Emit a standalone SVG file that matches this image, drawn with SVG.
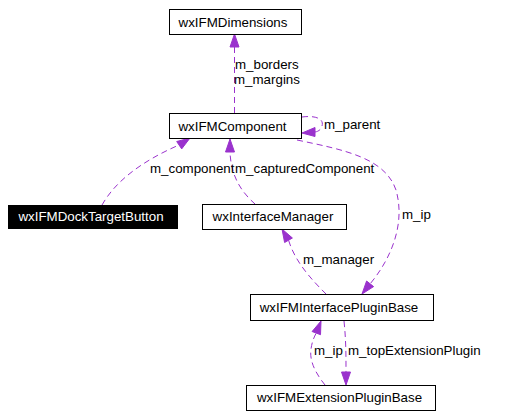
<svg xmlns="http://www.w3.org/2000/svg" width="512" height="418" viewBox="0 0 512 418">
<style>
text{font-family:"Liberation Sans",Arial,sans-serif;font-size:13.33px;fill:#000}
.n rect{fill:#fff;stroke:#000;stroke-width:1}
.e path{fill:none;stroke:#9a32cd;stroke-width:1;stroke-dasharray:6,4}
.e polygon{fill:#9a32cd;stroke:#9a32cd;stroke-width:1}
.c{text-anchor:middle}
</style>
<rect width="512" height="418" fill="#fff"/>
<g id="connectors" class="e">
<path d="M234.5,113 L234.5,47"/>
<polygon points="230,47 239,47 234.5,34"/>
<path d="M302,117 C318,115 324,120 322,126 C321,130 318,131.5 315,132"/>
<polygon points="315,127.5 315,136.5 302,133"/>
<path d="M102,205 C115,182 140,162 179,145"/>
<polygon points="181.7,148.9 176.7,141.5 190,138"/>
<path d="M255,204 C245,195 231,180 230,152"/>
<polygon points="225.5,152 234.5,152 230,139"/>
<path d="M297,140 C345,150 385,158 396,190 C406,225 390,260 370,284"/>
<polygon points="373.6,286.6 366.6,281 362,294"/>
<path d="M326,294 C312,280 295,262 288.5,240"/>
<polygon points="292.4,238 284.6,242.5 282,229"/>
<path d="M325,385 C317,375 309,362 311,349 C312,342 314,337 316.3,333"/>
<polygon points="320.5,334.7 312.1,331.5 321,321"/>
<path d="M344,321 C346,340 346,355 346,372"/>
<polygon points="341.5,372 350.5,372 346,385"/>
<text x="235" y="69">m_borders</text>
<text x="234" y="84">m_margins</text>
<text x="324" y="129">m_parent</text>
<text x="150" y="173">m_component</text>
<text x="235" y="173">m_capturedComponent</text>
<text x="402" y="219">m_ip</text>
<text x="303" y="264">m_manager</text>
<text x="314" y="355">m_ip</text>
<text x="348" y="355">m_topExtensionPlugin</text>
</g>
<g id="wxIFMDimensions" class="n"><rect x="169.5" y="9.5" width="132" height="25"/><text class="c" x="233" y="26.5">wxIFMDimensions</text></g>
<g id="wxIFMComponent" class="n"><rect x="169.5" y="113.5" width="132" height="25"/><text class="c" x="232.5" y="130.5">wxIFMComponent</text></g>
<g id="wxIFMDockTargetButton"><rect x="8" y="205" width="170" height="24" fill="#000"/><text class="c" x="91" y="221" style="fill:#fff">wxIFMDockTargetButton</text></g>
<g id="wxInterfaceManager" class="n"><rect x="202.5" y="204.5" width="144" height="25"/><text class="c" x="273" y="221">wxInterfaceManager</text></g>
<g id="wxIFMInterfacePluginBase" class="n"><rect x="250.5" y="294.5" width="183" height="26"/><text class="c" x="339" y="312">wxIFMInterfacePluginBase</text></g>
<g id="wxIFMExtensionPluginBase" class="n"><rect x="246.5" y="385.5" width="189" height="25"/><text class="c" x="339.5" y="402">wxIFMExtensionPluginBase</text></g>
</svg>
